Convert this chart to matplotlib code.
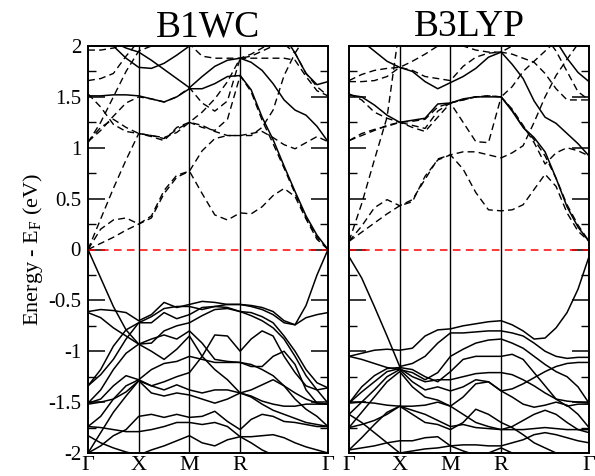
import numpy as np
import matplotlib
matplotlib.use('Agg')
import matplotlib.pyplot as plt

plt.rcParams['font.family'] = ['Liberation Serif', 'DejaVu Serif']
plt.rcParams['mathtext.fontset'] = 'custom'
plt.rcParams['mathtext.rm'] = 'Liberation Serif'

# k path  G-X-M-R-G  (simple cubic, lengths in units of 2pi/a)
k_sym = [0.0, 0.5, 1.0, 1.5, 2.366]
k_labels = ['Γ', 'X', 'M', 'R', 'Γ']
k_grid = list(np.linspace(0, 0.5, 5)) + list(np.linspace(0.5, 1.0, 5)[1:]) + \
    list(np.linspace(1.0, 1.5, 5)[1:]) + list(np.linspace(1.5, 2.366, 9)[1:])

# ---------------- B1WC ----------------
b1wc_solid = [
    # conduction
    [1.51, 1.51, 1.52, 1.52, 1.51, 1.48, 1.45, 1.50, 1.58, 1.58, 1.63, 1.70, 1.71, 1.57, 1.30, 1.08, 0.82, 0.57, 0.33, 0.14, 0.00],
    [2.10, 2.08, 2.04, 1.98, 1.94, 1.86, 1.77, 1.68, 1.59, 1.70, 1.80, 1.86, 1.88, 1.84, 1.76, 1.63, 1.47, 1.37, 1.32, 1.21, 1.06],
    [2.15, 2.10, 2.00, 1.88, 1.79, 1.78, 1.83, 1.91, 2.00, 2.10, 2.15, 2.20, 2.20, 2.20, 2.20, 2.20, 2.10, 1.93, 1.73, 1.62, 1.65],
    # valence
    [-0.61, -0.59, -0.60, -0.62, -0.70, -0.64, -0.52, -0.57, -0.54, -0.51, -0.52, -0.54, -0.54, -0.55, -0.57, -0.61, -0.70, -0.74, -0.55, -0.25, 0.00],
    [-1.34, -1.18, -0.95, -0.79, -0.72, -0.72, -0.62, -0.68, -0.64, -0.57, -0.56, -0.57, -0.61, -0.62, -0.66, -0.72, -0.85, -1.00, -1.18, -1.31, -1.36],
    [-1.34, -1.23, -1.08, -0.88, -0.72, -0.66, -0.58, -0.56, -0.56, -0.59, -0.56, -0.54, -0.54, -0.56, -0.59, -0.64, -0.72, -0.74, -0.67, -0.64, -0.62],
    [0.00, -0.28, -0.56, -0.79, -0.93, -0.88, -0.84, -0.88, -0.80, -0.92, -1.08, -1.10, -1.11, -1.13, -1.18, -1.24, -1.34, -1.41, -1.47, -1.51, -1.52],
    [-0.62, -0.67, -0.77, -0.85, -0.93, -1.00, -1.08, -0.98, -0.85, -1.05, -1.18, -1.28, -1.41, -1.38, -1.33, -1.28, -1.34, -1.47, -1.57, -1.64, -1.74],
    [-1.51, -1.38, -1.18, -1.02, -0.93, -0.92, -0.80, -0.75, -0.72, -0.65, -0.59, -0.58, -0.61, -0.65, -0.70, -0.77, -0.88, -1.05, -1.24, -1.38, -1.51],
    [-1.51, -1.47, -1.34, -1.24, -1.28, -1.18, -1.12, -1.10, -1.05, -1.08, -1.11, -1.11, -1.11, -1.15, -1.15, -1.05, -1.00, -1.13, -1.38, -1.51, -1.52],
    [-1.74, -1.64, -1.47, -1.34, -1.28, -1.34, -1.30, -1.25, -1.21, -1.05, -0.84, -0.85, -1.00, -0.88, -0.80, -0.85, -1.05, -1.21, -1.34, -1.38, -1.36],
    [-1.52, -1.50, -1.47, -1.40, -1.29, -1.34, -1.38, -1.33, -1.38, -1.41, -1.38, -1.38, -1.41, -1.44, -1.49, -1.52, -1.54, -1.54, -1.52, -1.52, -1.52],
    [-2.00, -1.80, -1.60, -1.44, -1.29, -1.41, -1.44, -1.41, -1.43, -1.47, -1.51, -1.47, -1.41, -1.45, -1.52, -1.58, -1.62, -1.66, -1.70, -1.72, -1.74],
    [-2.00, -1.93, -1.83, -1.77, -1.64, -1.62, -1.65, -1.62, -1.65, -1.64, -1.59, -1.69, -1.77, -1.67, -1.62, -1.64, -1.69, -1.70, -1.72, -1.74, -1.74],
    [-1.74, -1.75, -1.77, -1.79, -1.79, -1.77, -1.74, -1.70, -1.70, -1.72, -1.70, -1.74, -1.84, -1.84, -1.83, -1.82, -1.85, -1.90, -1.94, -1.97, -2.00],
    [-1.83, -1.90, -1.95, -1.99, -2.02, -1.97, -1.93, -1.88, -1.83, -1.90, -1.93, -1.87, -1.84, -1.90, -1.97, -2.02, -2.05, -2.05, -2.05, -2.05, -2.05],
]
b1wc_dashed = [
    [0.00, 0.20, 0.29, 0.31, 0.25, 0.33, 0.58, 0.73, 0.77, 0.55, 0.34, 0.29, 0.36, 0.35, 0.42, 0.53, 0.60, 0.52, 0.30, 0.10, 0.00],
    [0.00, 0.06, 0.12, 0.19, 0.25, 0.31, 0.55, 0.71, 0.77, 0.97, 1.09, 1.12, 1.12, 1.14, 1.16, 1.10, 1.03, 0.99, 1.05, 1.11, 1.06],
    [0.00, 0.30, 0.60, 0.88, 1.14, 1.11, 1.07, 1.20, 1.25, 1.35, 1.48, 1.65, 1.88, 1.88, 1.88, 1.88, 1.88, 1.86, 1.70, 1.56, 1.51],
    [1.53, 1.40, 1.23, 1.16, 1.14, 1.12, 1.09, 1.18, 1.25, 1.20, 1.17, 1.28, 1.71, 1.55, 1.27, 1.04, 0.80, 0.55, 0.31, 0.12, 0.00],
    [1.06, 1.17, 1.31, 1.44, 1.50, 1.48, 1.45, 1.50, 1.59, 1.44, 1.36, 1.46, 1.88, 1.90, 1.95, 2.00, 2.02, 1.93, 1.73, 1.60, 1.51],
    [1.05, 1.25, 1.50, 1.75, 1.95, 2.00, 2.05, 2.05, 2.02, 1.90, 1.88, 1.88, 1.88, 1.92, 1.98, 2.05, 2.10, 2.10, 2.10, 2.10, 2.10],
    [1.06, 1.20, 1.28, 1.20, 1.14, 1.12, 1.10, 1.15, 1.25, 1.22, 1.16, 1.12, 1.12, 1.12, 1.20, 1.37, 1.71, 1.93, 2.10, 2.10, 2.10],
    [1.66, 1.68, 1.73, 1.90, 2.05, 2.10, 2.10, 2.10, 2.10, 2.10, 2.10, 2.10, 2.10, 2.10, 2.10, 2.10, 2.10, 2.10, 2.10, 2.10, 2.10],
    [1.96, 1.96, 1.98, 2.02, 2.08, 2.10, 2.10, 2.10, 2.10, 2.10, 2.10, 2.10, 2.10, 2.10, 2.10, 2.10, 2.10, 2.10, 2.10, 2.10, 2.10],
]

# ---------------- B3LYP ----------------
b3lyp_solid = [
    # conduction
    [1.52, 1.50, 1.42, 1.32, 1.25, 1.27, 1.29, 1.43, 1.44, 1.48, 1.50, 1.50, 1.50, 1.36, 1.20, 1.10, 0.96, 0.70, 0.42, 0.22, 0.08],
    [2.10, 2.05, 1.95, 1.85, 1.79, 1.75, 1.65, 1.58, 1.64, 1.70, 1.78, 1.89, 1.94, 1.82, 1.68, 1.46, 1.30, 1.24, 1.14, 1.04, 0.92],
    [2.20, 2.20, 2.20, 2.20, 2.20, 2.20, 2.20, 2.20, 2.20, 2.20, 2.20, 2.20, 2.20, 2.20, 2.20, 2.20, 2.15, 2.05, 1.88, 1.74, 1.65],
    # valence
    [-0.07, -0.28, -0.56, -0.85, -1.15, -1.12, -1.05, -0.92, -0.82, -0.82, -0.81, -0.80, -0.80, -0.82, -0.85, -0.92, -1.00, -1.05, -1.07, -1.06, -1.06],
    [-1.05, -1.02, -0.99, -0.98, -0.99, -0.97, -0.85, -0.79, -0.78, -0.75, -0.73, -0.71, -0.70, -0.74, -0.80, -0.88, -0.87, -0.77, -0.62, -0.39, -0.07],
    [-1.05, -1.08, -1.12, -1.16, -1.18, -1.21, -1.28, -1.21, -1.05, -0.98, -0.92, -0.89, -0.88, -0.92, -0.97, -1.05, -1.13, -1.20, -1.25, -1.35, -1.51],
    [-1.51, -1.35, -1.24, -1.17, -1.16, -1.18, -1.25, -1.30, -1.20, -1.08, -1.05, -1.05, -1.05, -1.03, -1.08, -1.21, -1.34, -1.47, -1.54, -1.52, -1.52],
    [-1.51, -1.40, -1.30, -1.20, -1.17, -1.25, -1.30, -1.28, -1.28, -1.25, -1.22, -1.21, -1.21, -1.23, -1.28, -1.34, -1.41, -1.47, -1.49, -1.50, -1.51],
    [-1.62, -1.50, -1.38, -1.25, -1.18, -1.30, -1.38, -1.35, -1.39, -1.35, -1.28, -1.30, -1.39, -1.37, -1.32, -1.26, -1.20, -1.15, -1.12, -1.11, -1.11],
    [-1.75, -1.60, -1.45, -1.30, -1.20, -1.35, -1.45, -1.48, -1.54, -1.45, -1.32, -1.30, -1.39, -1.45, -1.52, -1.55, -1.53, -1.50, -1.53, -1.62, -1.75],
    [-1.51, -1.50, -1.51, -1.53, -1.54, -1.54, -1.53, -1.50, -1.54, -1.62, -1.70, -1.74, -1.77, -1.77, -1.77, -1.76, -1.75, -1.76, -1.77, -1.77, -1.77],
    [-1.75, -1.72, -1.68, -1.62, -1.54, -1.58, -1.62, -1.68, -1.74, -1.72, -1.75, -1.76, -1.77, -1.74, -1.68, -1.62, -1.58, -1.62, -1.70, -1.77, -1.80],
    [-1.97, -1.85, -1.72, -1.60, -1.54, -1.62, -1.70, -1.72, -1.77, -1.70, -1.57, -1.62, -1.70, -1.75, -1.82, -1.90, -1.95, -2.00, -2.05, -2.05, -2.05],
    [-1.97, -1.95, -1.93, -1.90, -1.88, -1.88, -1.85, -1.84, -1.93, -1.92, -1.92, -1.93, -1.93, -1.90, -1.87, -1.82, -1.80, -1.82, -1.85, -1.88, -1.90],
    [-1.62, -1.70, -1.80, -1.90, -2.00, -1.98, -1.96, -1.95, -1.93, -1.98, -2.02, -2.00, -1.95, -2.00, -2.05, -2.05, -2.05, -2.05, -2.05, -2.05, -2.05],
]
b3lyp_dashed = [
    [0.08, 0.23, 0.41, 0.49, 0.43, 0.49, 0.69, 0.89, 0.93, 0.79, 0.56, 0.39, 0.38, 0.39, 0.44, 0.59, 0.74, 0.62, 0.36, 0.18, 0.08],
    [0.08, 0.17, 0.26, 0.35, 0.43, 0.47, 0.72, 0.88, 0.93, 0.96, 0.96, 0.93, 0.90, 0.95, 1.02, 1.25, 1.50, 1.71, 1.87, 2.02, 2.10],
    [0.08, 0.45, 0.88, 1.30, 2.20, 2.20, 2.20, 2.20, 2.20, 2.20, 2.20, 2.20, 2.20, 2.20, 2.20, 2.20, 2.20, 2.20, 2.20, 2.20, 2.20],
    [1.07, 1.14, 1.18, 1.21, 1.25, 1.22, 1.19, 1.36, 1.44, 1.25, 1.06, 1.05, 1.50, 1.38, 1.22, 1.05, 0.84, 0.95, 1.00, 0.97, 0.92],
    [1.07, 1.12, 1.17, 1.22, 1.25, 1.26, 1.28, 1.40, 1.44, 1.47, 1.50, 1.51, 1.50, 1.37, 1.20, 1.08, 0.92, 0.70, 0.44, 0.24, 0.08],
    [1.53, 1.47, 1.35, 1.29, 1.25, 1.20, 1.16, 1.30, 1.44, 1.47, 1.50, 1.51, 1.50, 1.60, 1.75, 1.85, 1.95, 2.05, 2.10, 2.10, 2.10],
    [1.65, 1.65, 1.66, 1.70, 1.79, 1.76, 1.70, 1.68, 1.66, 1.80, 1.89, 1.93, 1.94, 1.92, 1.88, 1.84, 1.73, 1.58, 1.47, 1.47, 1.47],
    [1.66, 1.72, 1.76, 1.78, 1.79, 1.85, 1.92, 2.00, 2.05, 2.00, 1.96, 1.94, 1.94, 2.00, 2.05, 2.10, 2.10, 1.95, 1.75, 1.55, 1.47],
]

panels = [('B1WC', b1wc_solid, b1wc_dashed), ('B3LYP', b3lyp_solid, b3lyp_dashed)]
yticks = [-2, -1.5, -1, -0.5, 0, 0.5, 1, 1.5, 2]
ytick_labels = ['-2', '-1.5', '-1', '-0.5', '0', '0.5', '1', '1.5', '2']

fig = plt.figure(figsize=(5.95, 4.76), dpi=100)
lefts = [88 / 595, 349 / 595]
for i, (name, solid, dashed) in enumerate(panels):
    ax = fig.add_axes([lefts[i], 23 / 476, 240 / 595, 407 / 476])
    for band in solid:
        ax.plot(k_grid, band, color='k', lw=1.1)
    for band in dashed:
        ax.plot(k_grid, band, color='k', lw=1.0, ls=(0, (5, 3)))
    for ks in k_sym[1:-1]:
        ax.axvline(ks, color='k', lw=1.0)
    ax.plot([k_sym[0], k_sym[-1]], [0, 0], color='red', lw=1.1, ls=(0, (5, 3.5)))
    ax.set_xlim(k_sym[0], k_sym[-1])
    ax.set_ylim(-2, 2)
    ax.set_xticks(k_sym)
    ax.set_xticklabels(k_labels, fontsize=16)
    ax.tick_params(axis='x', length=0, pad=2)
    ax.set_yticks(yticks)
    ax.set_yticks(np.arange(-1.75, 2, 0.5), minor=True)
    if i == 0:
        ax.set_yticklabels(ytick_labels, fontsize=15)
        ax.set_ylabel('Energy - E$_\\mathrm{F}$ (eV)', fontsize=16, labelpad=2)
    else:
        ax.set_yticklabels([])
    ax.tick_params(axis='y', which='major', direction='in', length=12, width=1.1, left=True, right=True, pad=5)
    ax.tick_params(axis='y', which='minor', direction='in', length=6, width=1.0, left=True, right=True)
    for sp in ax.spines.values():
        sp.set_linewidth(1.4)
    ax.set_title(name, fontsize=27, pad=7)

fig.savefig('out.png', dpi=100)
